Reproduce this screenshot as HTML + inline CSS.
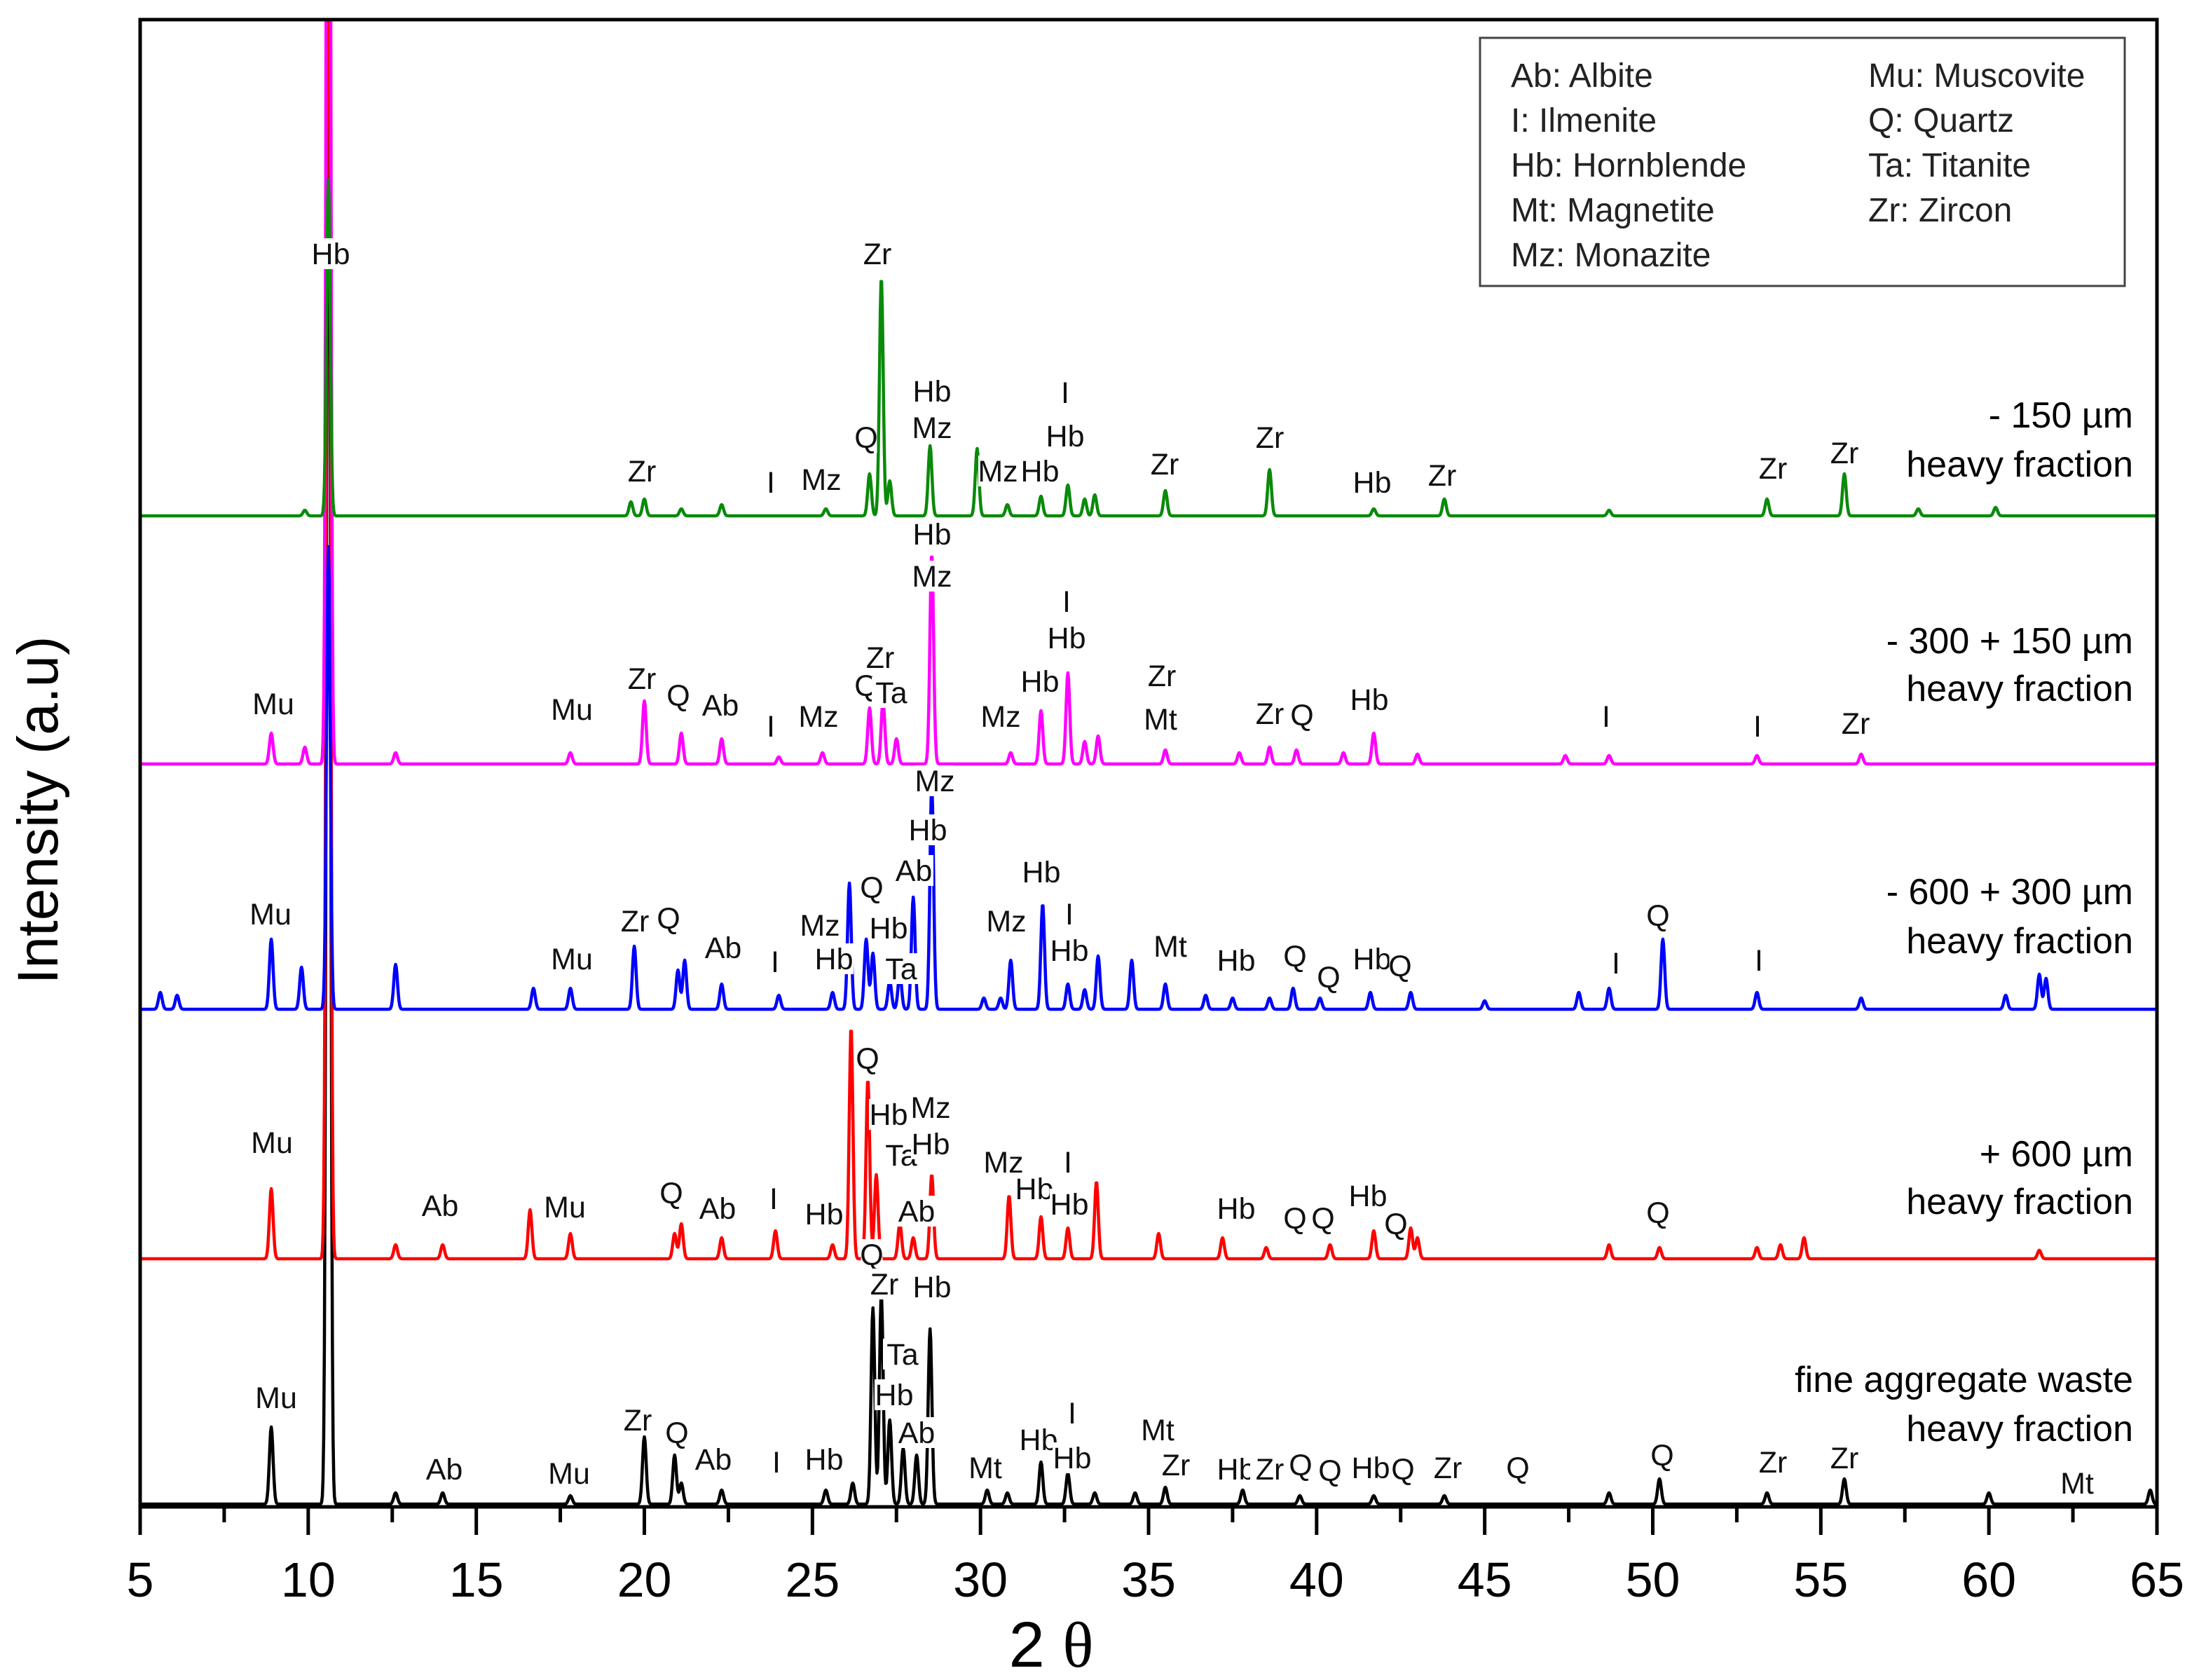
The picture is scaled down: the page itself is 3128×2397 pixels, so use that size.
<!DOCTYPE html>
<html><head><meta charset="utf-8">
<style>
html,body{margin:0;padding:0;background:#fff;}
svg{display:block;font-family:"Liberation Sans",sans-serif;}
</style></head>
<body>
<svg id="chart" width="3128" height="2397" viewBox="0 0 3128 2397">
<defs><clipPath id="plotclip"><rect x="200" y="28" width="2878" height="2122"/></clipPath></defs>
<g id="traces" clip-path="url(#plotclip)"></g>
<g id="labels"></g>
<rect x="200" y="28" width="2878" height="2122" fill="none" stroke="#000" stroke-width="5"/>
<g id="axis"></g>
<text x="1500" y="2378" font-size="92" text-anchor="middle">2 <tspan font-family="Liberation Serif, serif">θ</tspan></text>
<text transform="translate(82,1156) rotate(-90)" font-size="82" text-anchor="middle">Intensity (a.u)</text>
<g>
<rect x="2112" y="54" width="920" height="354" fill="#fff" stroke="#444" stroke-width="3"/>
<g font-size="48" fill="#222">
<text x="2156" y="124">Ab: Albite</text>
<text x="2156" y="188">I: Ilmenite</text>
<text x="2156" y="252">Hb: Hornblende</text>
<text x="2156" y="316">Mt: Magnetite</text>
<text x="2156" y="380">Mz: Monazite</text>
<text x="2666" y="124">Mu: Muscovite</text>
<text x="2666" y="188">Q: Quartz</text>
<text x="2666" y="252">Ta: Titanite</text>
<text x="2666" y="316">Zr: Zircon</text>
</g></g>
</svg>
<script>
const xTicks=[5,10,15,20,25,30,35,40,45,50,55,60,65];
const seriesNames=["fine-aggregate","plus-600","minus-600-plus-300","minus-300-plus-150","minus-150"];
const seriesColors=["#000000","#ff0000","#0000ff","#ff00ff","#0a8a0a"];
const seriesOffsets=[2,177,355,530,707];
const blackPos=[8.9,10.6,12.6,14,17.8,20.0,20.9,21.1,22.3,25.4,26.2,26.8,27.05,27.3,27.7,28.1,28.5,30.2,30.8,31.8,32.6,33.4,34.6,35.5,37.8,39.5,41.7,43.8,48.7,50.2,53.4,55.7,60,64.8];
const blackInt=[55,1200,8,8,6,48,35,15,10,10,15,140,150,60,40,35,125,10,8,30,22,8,8,12,10,6,6,6,8,18,8,18,8,10];
const redPos=[8.9,10.6,12.6,14,16.6,17.8,20.9,21.1,22.3,23.9,25.6,26.15,26.65,26.9,27.6,28.0,28.55,30.85,31.8,32.6,33.45,35.3,37.2,38.5,40.4,41.7,42.8,43.0,48.7,50.2,53.1,53.8,54.5,61.5];
const redInt=[50,1200,10,10,35,18,18,25,15,20,10,165,128,60,25,15,60,45,30,22,55,18,15,8,10,20,22,15,10,8,8,10,15,6];
const bluePos=[5.6,6.1,8.9,9.8,10.6,12.6,16.7,17.8,19.7,21.0,21.2,22.3,24.0,25.6,26.1,26.6,26.8,27.3,27.6,28.0,28.55,30.1,30.6,30.9,31.85,32.6,33.1,33.5,34.5,35.5,36.7,37.5,38.6,39.3,40.1,41.6,42.8,45,47.8,48.7,50.3,53.1,56.2,60.5,61.5,61.7];
const blueInt=[12,10,50,30,330,32,15,15,45,28,35,18,10,12,90,50,40,20,25,80,160,8,8,35,75,18,14,38,35,18,10,8,8,15,8,12,12,6,12,15,50,12,8,10,25,22];
const magPos=[8.9,9.9,10.6,12.6,17.8,20.0,21.1,22.3,24.0,25.3,26.7,27.1,27.5,28.55,30.9,31.8,32.6,33.1,33.5,35.5,37.7,38.6,39.4,40.8,41.7,43.0,47.4,48.7,53.1,56.2];
const magInt=[22,12,1200,8,8,45,22,18,5,8,40,45,18,150,8,38,65,16,20,10,8,12,10,8,22,7,6,6,6,7];
const greenPos=[9.9,10.6,19.6,20.0,21.1,22.3,25.4,26.7,27.05,27.3,28.5,29.9,30.8,31.8,32.6,33.1,33.4,35.5,38.6,41.7,43.8,48.7,53.4,55.7,57.9,60.2];
const greenInt=[4,240,10,12,5,8,5,30,170,25,50,48,8,14,22,12,15,18,33,5,12,4,12,30,5,6];
const allPos=[blackPos,redPos,bluePos,magPos,greenPos];
const allInt=[blackInt,redInt,blueInt,magInt,greenInt];
const seriesTitles=[["fine aggregate waste","heavy fraction"],["+ 600 µm","heavy fraction"],["- 600 + 300 µm","heavy fraction"],["- 300 + 150 µm","heavy fraction"],["- 150 µm","heavy fraction"]];
const titleY=[[984,1019],[823,857],[636,671],[457,491],[296,331]];
const peakLabels=[
["Hb",238,181],["Zr",628,181],["Zr",460,336],["I",552,344],["Mz",588,342],["Q",620,312],["Hb",667,279],["Mz",667,305],["Mz",714,336],["Hb",744,336],["I",762,280],["Hb",762,311],["Zr",833,331],["Zr",908,312],["Hb",981,344],["Zr",1031,339],["Zr",1267,334],["Zr",1318,323],
["Mu",197,502],["Mu",410,506],["Zr",460,484],["Q",486,496],["Ab",516,503],["I",552,518],["Mz",586,511],["Zr",630,469],["Q",620,489],["Ta",638,494],["Hb",667,381],["Mz",667,411],["Mz",716,511],["Hb",744,486],["I",763,429],["Hb",763,455],["Zr",831,482],["Mt",830,513],["Zr",908,509],["Q",931,510],["Hb",979,499],["I",1148,511],["I",1256,518],["Zr",1326,516],
["Mu",195,652],["Zr",455,657],["Q",479,655],["Mu",410,684],["Ab",518,676],["I",555,686],["Mz",587,660],["Hb",597,684],["Q",624,633],["Hb",636,662],["Ta",645,691],["Ab",654,621],["Hb",664,592],["Mz",669,557],["Mz",720,657],["Hb",745,622],["I",765,652],["Hb",765,678],["Mt",837,675],["Hb",884,685],["Q",926,682],["Q",950,697],["Hb",981,684],["Q",1001,689],["Q",1185,653],["I",1155,687],["I",1257,685],
["Mu",196,815],["Ab",316,860],["Mu",405,861],["Q",481,851],["Ab",514,862],["I",554,855],["Hb",590,866],["Q",621,755],["Hb",636,795],["Mz",666,790],["Ta",645,824],["Hb",666,816],["Ab",656,864],["Mz",718,829],["I",764,829],["Hb",740,848],["Hb",765,859],["Hb",884,862],["Q",926,869],["Q",946,869],["Hb",978,853],["Q",998,873],["Q",1185,865],
["Mu",199,997],["Ab",319,1048],["Mu",408,1051],["Zr",457,1013],["Q",485,1022],["Ab",511,1041],["I",556,1043],["Hb",590,1041],["Q",624,895],["Zr",633,916],["Hb",667,918],["Ta",646,966],["Hb",640,995],["Ab",656,1022],["Mt",705,1047],["Hb",743,1027],["I",767,1008],["Hb",767,1040],["Mt",828,1020],["Zr",841,1045],["Hb",884,1048],["Zr",908,1048],["Q",930,1045],["Q",951,1049],["Hb",980,1047],["Q",1003,1048],["Zr",1035,1047],["Q",1085,1047],["Q",1188,1038],["Zr",1267,1043],["Zr",1318,1040],["Mt",1484,1058]];

const NS="http://www.w3.org/2000/svg";
const X0=200,X1=3078,Y0=2150;
function xs(v){return X0+(v-5)*(X1-X0)/60;}
function ys(v){return Y0-v*2;}
const traces=document.getElementById('traces');
for(let s=0;s<5;s++){
  const P=allPos[s],I=allInt[s];let d="";
  for(let t=5;t<=65.0001;t+=0.02){
    let v=seriesOffsets[s];
    for(let k=0;k<P.length;k++){const z=(t-P[k])/0.055;if(Math.abs(z)<6)v+=I[k]*Math.exp(-0.5*z*z);}
    d+=(d?"L":"M")+xs(t).toFixed(1)+","+ys(v).toFixed(1);
  }
  const p=document.createElementNS(NS,'path');
  p.setAttribute('d',d);p.setAttribute('fill','none');p.setAttribute('stroke',seriesColors[s]);p.setAttribute('stroke-width','4.5');p.setAttribute('stroke-linejoin','round');
  
  
  traces.appendChild(p);
  for(let r=0;r<2;r++){
    const t=document.createElementNS(NS,'text');
    t.setAttribute('x',3044);t.setAttribute('y',titleY[s][r]*2+18);t.setAttribute('font-size','52');t.setAttribute('text-anchor','end');
    t.textContent=seriesTitles[s][r];
    
    
    document.getElementById('labels').appendChild(t);
  }
}
const lg=document.getElementById('labels');
peakLabels.forEach(l=>{
  const w=l[0].length*25+6;
  const cx=l[1]*2-4;
  const r=document.createElementNS(NS,'rect');
  r.setAttribute('x',cx-w/2);r.setAttribute('y',l[2]*2-22);r.setAttribute('width',w);r.setAttribute('height',44);r.setAttribute('fill','#fff');
  
  
  lg.appendChild(r);
  const t=document.createElementNS(NS,'text');
  t.setAttribute('x',cx);t.setAttribute('y',l[2]*2+15);t.setAttribute('font-size','43');t.setAttribute('text-anchor','middle');t.setAttribute('fill','#111');
  t.textContent=l[0];
  
  
  lg.appendChild(t);
});
const ax=document.getElementById('axis');
for(let v=5;v<=65;v+=2.5){
  const major=(v%5===0);
  const ln=document.createElementNS(NS,'line');
  ln.setAttribute('x1',xs(v));ln.setAttribute('x2',xs(v));ln.setAttribute('y1',Y0);ln.setAttribute('y2',Y0+(major?40:22));ln.setAttribute('stroke','#000');ln.setAttribute('stroke-width','5');
  
  
  ax.appendChild(ln);
}
xTicks.forEach(v=>{
  const t=document.createElementNS(NS,'text');
  t.setAttribute('x',xs(v));t.setAttribute('y',2278);t.setAttribute('font-size','70');t.setAttribute('text-anchor','middle');
  t.textContent=v;
  
  
  ax.appendChild(t);
});
</script>
</body></html>
